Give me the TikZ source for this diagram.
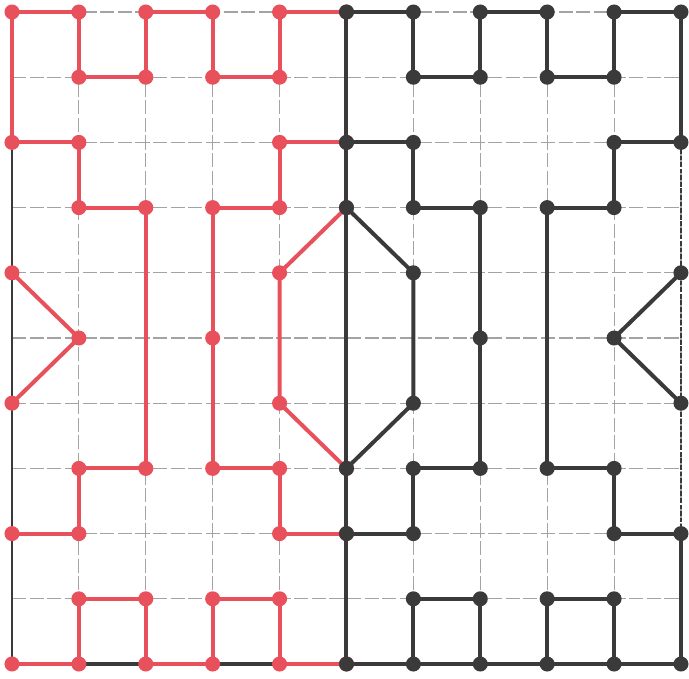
\documentclass[tikz,border=0pt]{standalone}
\usepackage{tikz}
\usetikzlibrary{positioning}
\definecolor{ink}{HTML}{3A3A3A}
\definecolor{pen}{HTML}{E8505B}
\definecolor{rule}{HTML}{8C8C8C}
\tikzset{
  grid line/.style={draw=rule!80, line width=0.45pt, dash pattern=on 6pt off 1.5pt},
  edge dash/.style={draw=ink, line width=0.8pt, dash pattern=on 2pt off 0.8pt},
  frame/.style={draw=ink, line width=1.1pt},
  wall/.style={line width=1.7pt, line join=round, line cap=round},
}
\newcommand{\mazehalf}[2]{%
  \draw[wall,draw=#1] (5,0)--(6,0)--(6,1)--(7,1)--(7,0)--(8,0)--(8,1)--(9,1)--(9,0)--(10,0)--(10,2)
    --(9,2)--(9,3)--(8,3)--(8,7)--(9,7)--(9,8)--(10,8);
  \draw[wall,draw=#1] (5,2)--(6,2)--(6,3)--(7,3)--(7,7)--(6,7)--(6,8)--(5,8);
  \draw[wall,draw=#1] (5,3)--(6,4)--(6,6)--(5,7);
  \draw[wall,draw=#1] (10,4)--(9,5)--(10,6);
  \draw[wall,draw=#1] (5,10)--(6,10)--(6,9)--(7,9)--(7,10);
  \draw[wall,draw=#1] (7,10)--(8,10)--(8,9)--(9,9)--(9,10)--(10,10);
  \foreach \p in {(5,0),(6,0),(6,1),(7,1),(7,0),(8,0),(8,1),(9,1),(9,0),(10,0),(10,2),(9,2),(9,3),
    (8,3),(8,7),(9,7),(9,8),(10,8),(5,2),(6,2),(6,3),(7,3),(7,5),(7,7),(6,7),(6,8),(5,8),(5,3),
    (6,4),(6,6),(5,7),(10,4),(9,5),(10,6),(5,10),(6,10),(7,10),(8,10),(9,10),(10,10),(6,9),(7,9),(8,9),(9,9)}
    \fill[#1] \p circle (#2);
}

\begin{document}
\begin{tikzpicture}[x=1cm,y=-0.9746cm]
  \useasboundingbox (-0.179,-0.184) rectangle (10.12,10.215);
  \foreach \i in {0,...,10}{
    \draw[grid line] (\i,0) -- (\i,10);
    \draw[grid line] (0,\i) -- (10,\i);
  }
  \draw[frame] (0,2) -- (0,10);
  \draw[edge dash] (10,2) -- (10,8);
  \draw[frame,line width=1.5pt] (0,10) -- (10,10);
  \begin{scope}[xshift=10cm,xscale=-1]
    \mazehalf{pen}{3.2pt}
  \end{scope}
  \draw[wall,draw=ink] (5,0) -- (5,10);
  \draw[wall,draw=ink] (10,8) -- (10,10);
  \mazehalf{ink}{3.2pt}
\end{tikzpicture}
\end{document}
